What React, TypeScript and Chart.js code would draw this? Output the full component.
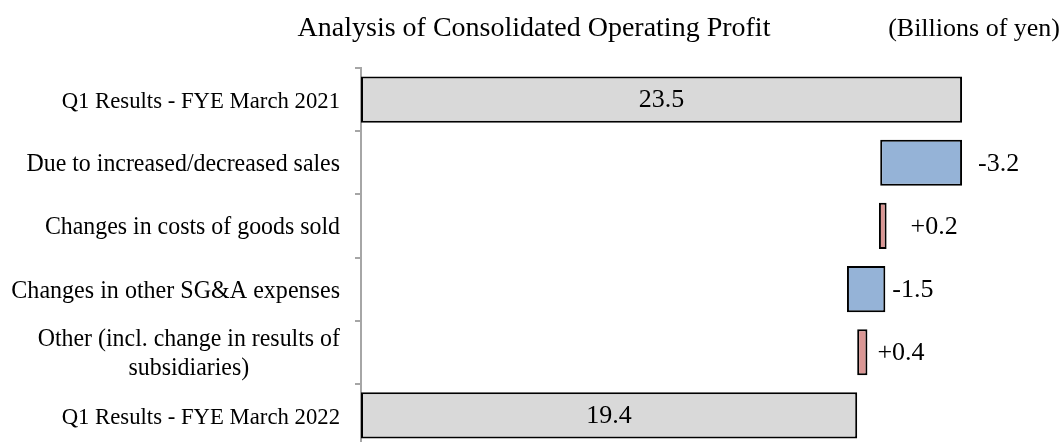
import React, { useEffect, useRef } from 'react';
import { Chart, registerables } from 'chart.js';

Chart.register(...registerables);

// ---- data ----
const categories: string[][] = [
  ['Q1 Results - FYE March 2021'],
  ['Due to increased/decreased sales'],
  ['Changes in costs of goods sold'],
  ['Changes in other SG&A expenses'],
  ['Other (incl. change in results of', 'subsidiaries)'],
  ['Q1 Results - FYE March 2022'],
];
const barStart = [0, 20.3, 20.25, 19.0, 19.4, 0];
const barEnd = [23.5, 23.5, 20.55, 20.5, 19.8, 19.4];
const valueLabels = ['23.5', '-3.2', '+0.2', '-1.5', '+0.4', '19.4'];
const barKinds = ['total', 'decrease', 'increase', 'decrease', 'increase', 'total'];
const chartTitle = 'Analysis of Consolidated Operating Profit';
const unitLabel = '(Billions of yen)';

// ---- styling ----
const FONT = '"Liberation Serif", "Times New Roman", serif';
const kindColors: Record<string, string> = {
  total: '#d9d9d9',
  decrease: '#95b3d7',
  increase: '#da9694',
};
const labelGaps = [0, 16, 24, 7, 10, 0];
const categoryFontSizes = [23.8, 25, 25, 25.2, 25, 23.8];
const categoryScaleX = 0.955;

const textPlugin = {
  id: 'texts',
  afterDatasetsDraw(chart: any) {
    const ctx = chart.ctx as CanvasRenderingContext2D;
    const meta = chart.getDatasetMeta(0);
    const yScale = chart.scales.y;
    ctx.save();
    ctx.fillStyle = '#000';

    // value labels
    ctx.textBaseline = 'middle';
    ctx.font = `26px ${FONT}`;
    meta.data.forEach((bar: any, i: number) => {
      const { x, base, y } = bar.getProps(['x', 'base', 'y'], true);
      if (barKinds[i] === 'total') {
        ctx.textAlign = 'center';
        ctx.fillText(valueLabels[i], (x + base) / 2, y + 1);
      } else {
        ctx.textAlign = 'left';
        ctx.fillText(valueLabels[i], Math.max(x, base) + labelGaps[i], y + 1);
      }
    });

    // category labels (right aligned block, lines centered within block)
    ctx.textBaseline = 'alphabetic';
    ctx.textAlign = 'center';
    const right = yScale.right - 21;
    const lineH = 29;
    categories.forEach((lines, i) => {
      ctx.font = `${categoryFontSizes[i]}px ${FONT}`;
      const yc = yScale.getPixelForValue(i);
      const maxW = Math.max(...lines.map((l) => ctx.measureText(l).width)) * categoryScaleX;
      lines.forEach((l, j) => {
        const ty = yc + 8.5 + (j - (lines.length - 1) / 2) * lineH;
        ctx.save();
        ctx.translate(right - maxW / 2, ty);
        ctx.scale(categoryScaleX, 1);
        ctx.fillText(l, 0, 0);
        ctx.restore();
      });
    });

    // title & unit
    ctx.textBaseline = 'alphabetic';
    ctx.font = `28px ${FONT}`;
    ctx.textAlign = 'center';
    ctx.fillText(chartTitle, 534, 36);
    ctx.font = `26px ${FONT}`;
    ctx.textAlign = 'right';
    ctx.fillText(unitLabel, 1060, 36);
    ctx.restore();
  },
};

export default function App() {
  const ref = useRef<HTMLCanvasElement | null>(null);

  useEffect(() => {
    if (!ref.current) return;
    const chart = new Chart(ref.current, {
      type: 'bar',
      data: {
        labels: categories as any,
        datasets: [
          {
            data: barStart.map((s, i) => [s, barEnd[i]]) as any,
            backgroundColor: barKinds.map((k) => kindColors[k]),
            borderColor: '#000',
            borderWidth: 2,
            borderSkipped: false,
            barPercentage: 0.73,
            categoryPercentage: 1,
          },
        ],
      },
      options: {
        indexAxis: 'y',
        responsive: false,
        animation: false,
        layout: { padding: { top: 68, left: 0, right: 36, bottom: 0 } },
        plugins: {
          legend: { display: false },
          tooltip: { enabled: false },
          title: { display: false },
        },
        scales: {
          x: { type: 'linear', min: 0, max: 26, display: false },
          y: {
            type: 'category',
            afterFit: (scale: any) => {
              scale.width = 361;
            },
            grid: {
              display: true,
              drawOnChartArea: false,
              drawTicks: true,
              tickLength: 6,
              color: '#a6a6a6',
              lineWidth: 2,
              offset: true,
            },
            border: { display: true, color: '#a6a6a6', width: 2 },
            ticks: { display: false },
          },
        },
      },
      plugins: [textPlugin],
    });
    return () => chart.destroy();
  }, []);

  return (
    <div
      style={{
        position: 'fixed',
        left: 0,
        top: 0,
        width: 1062,
        height: 442,
        overflow: 'hidden',
        background: '#fff',
      }}
    >
      <canvas ref={ref} width={1062} height={447} style={{ display: 'block' }} />
    </div>
  );
}
